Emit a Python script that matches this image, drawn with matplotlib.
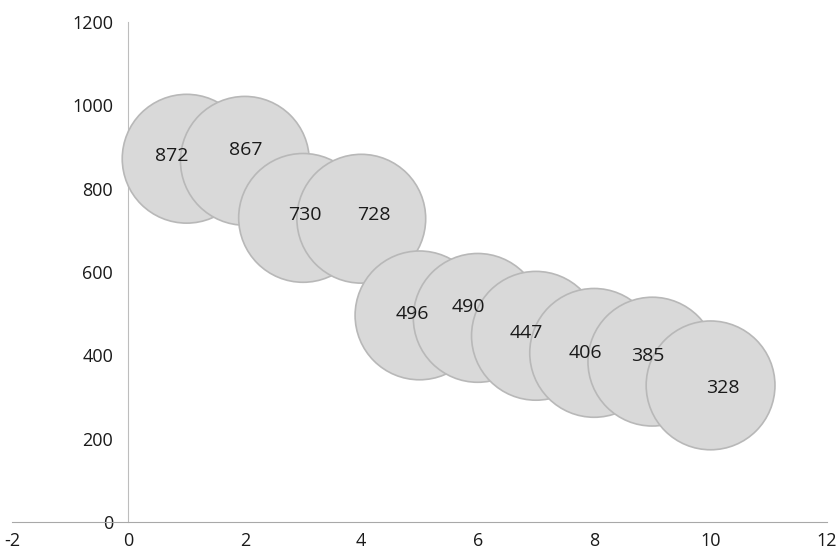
import matplotlib.pyplot as plt

x = [1, 2, 3, 4, 5, 6, 7, 8, 9, 10]
y = [872, 867, 730, 728, 496, 490, 447, 406, 385, 328]
sizes = [1, 1, 1, 1, 1, 1, 1, 1, 1, 1]
x_ticks = [-2, 0, 2, 4, 6, 8, 10, 12]
y_ticks = [0, 200, 400, 600, 800, 1000, 1200]

# label offsets (points), roughly as placed in the original
offsets = [(-11, 2), (1, 8), (1, 2), (9, 3), (-5, 1), (-7, 8), (-7, 2), (-6, 0), (-3, 4), (9, -2)]

plt.rcParams["font.family"] = ["Open Sans", "DejaVu Sans"]
plt.rcParams["axes.unicode_minus"] = False

fig = plt.figure(figsize=(8.39, 5.52), dpi=100)
ax = fig.add_axes([0.0143, 0.0543, 0.9714, 0.9057])

ax.scatter(x, y, s=[8600 * s for s in sizes], facecolor="#d9d9d9",
           edgecolor="#b8b8b8", linewidth=1.2, zorder=3)

for xi, yi, (dx, dy) in zip(x, y, offsets):
    ax.annotate(str(yi), (xi, yi), xytext=(dx, dy), textcoords="offset points",
                ha="center", va="center", fontsize=14, color="#1a1a1a", zorder=4)

ax.set_xlim(-2, 12)
ax.set_ylim(0, 1200)
ax.set_xticks(x_ticks)
ax.set_yticks(y_ticks)
ax.tick_params(length=0, labelsize=13, colors="#1a1a1a")
ax.tick_params(axis="y", pad=11)
ax.tick_params(axis="x", pad=7)

for side in ["top", "right"]:
    ax.spines[side].set_visible(False)
ax.spines["left"].set_position(("data", 0))
ax.spines["left"].set_bounds(0, 1200)
ax.spines["left"].set_color("#bdbdbd")
ax.spines["bottom"].set_color("#a8a8a8")
ax.spines["left"].set_zorder(1)
ax.patch.set_alpha(0)

fig.savefig("out.png", dpi=100)
plt.close()
